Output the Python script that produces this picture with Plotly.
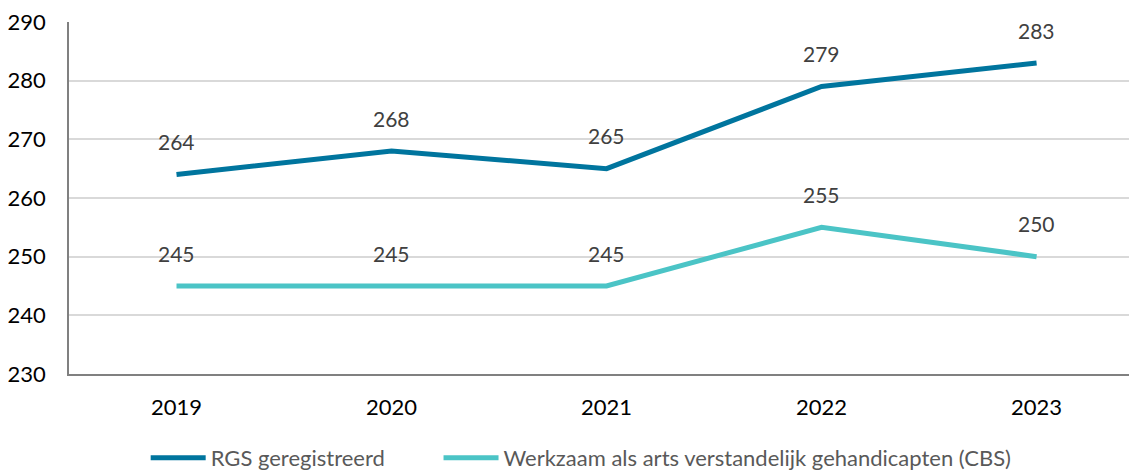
import plotly.graph_objects as go

years = ["2019", "2020", "2021", "2022", "2023"]
rgs = [264, 268, 265, 279, 283]
cbs = [245, 245, 245, 255, 250]
names = ["RGS geregistreerd", "Werkzaam als arts verstandelijk gehandicapten (CBS)"]
colors = ["#00759E", "#4BC4C6"]
legends = ["legend", "legend2"]

fig = go.Figure()
for vals, name, col, lg in zip([rgs, cbs], names, colors, legends):
    fig.add_trace(go.Scatter(x=years, y=vals, mode="lines", name=name, legend=lg,
                             line=dict(color=col, width=5)))
    for i, v in enumerate(vals):
        fig.add_annotation(x=i, y=v, xref="x", yref="y", text=str(v), showarrow=False,
                           yshift=33, font=dict(size=21, color="#404040", family="Lato"))

leg_common = dict(orientation="h", xanchor="left", y=-0.179, yanchor="top",
                  font=dict(size=22, color="#595959"), itemwidth=55,
                  bgcolor="rgba(0,0,0,0)")
fig.update_layout(
    width=1137, height=470,
    margin=dict(l=61, r=8, t=14, b=104, autoexpand=False),
    plot_bgcolor="white", paper_bgcolor="white",
    font=dict(family="Lato", size=22, color="#000000"),
    showlegend=True,
    legend=dict(x=0.0718, **leg_common),
    legend2=dict(x=0.346, **leg_common),
    xaxis=dict(type="category", range=[-0.5, 4.467], showgrid=False,
               showline=True, linecolor="#808080", linewidth=1.5,
               ticks="", ticklabelstandoff=13, automargin=False),
    yaxis=dict(range=[230, 290], dtick=10,
               showgrid=True, gridcolor="#D9D9D9", ticklabeloverflow="allow",
               gridwidth=1.5, showline=True, linecolor="#808080", linewidth=1.5,
               ticks="", ticklabelstandoff=17, zeroline=False, automargin=False),
)
fig.write_html("out.html")
